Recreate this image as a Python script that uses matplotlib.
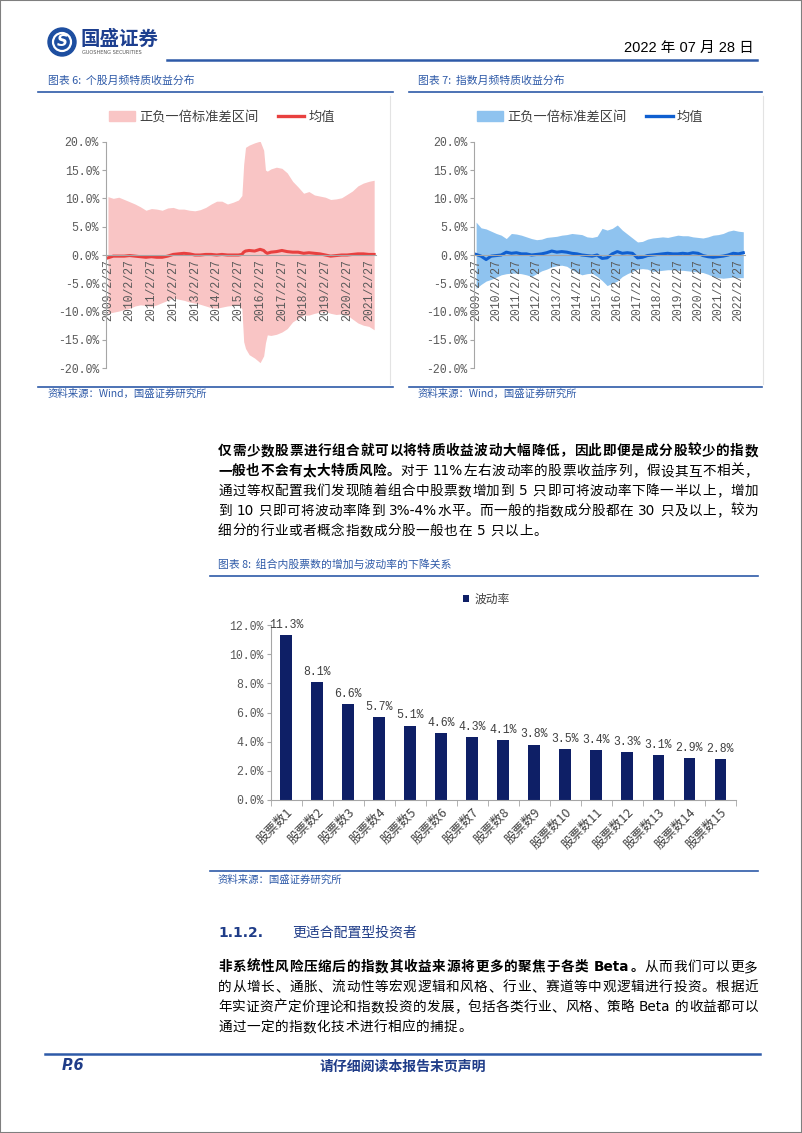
import matplotlib
matplotlib.use("Agg")
import matplotlib.pyplot as plt
import pandas as pd
from matplotlib.lines import Line2D
from matplotlib.patches import Patch, Ellipse, Rectangle

W, H = 802, 1133
CJK = ['Noto Sans CJK SC', 'DejaVu Sans']
LATIN = ['DejaVu Sans', 'Noto Sans CJK SC']
MONO = ['Liberation Mono', 'DejaVu Sans Mono']
NAVY = '#1f3c88'
BLUE = '#2e5aa8'
GREY = '#595959'

# ---- chart 6: stock idiosyncratic return, monthly (values in %)
stock_months = ("2009-02 2009-05 2009-08 2009-11 2010-02 2010-05 2010-08 2010-11 "
                "2011-02 2011-05 2011-08 2011-11 2012-02 2012-05 2012-08 2012-11 "
                "2013-02 2013-05 2013-08 2013-11 2014-02 2014-05 2014-08 2014-11 "
                "2015-02 2015-04 2015-05 2015-06 2015-08 2015-11 2016-02 2016-04 "
                "2016-05 2016-06 2016-08 2016-11 2017-02 2017-05 2017-08 2017-11 "
                "2018-02 2018-05 2018-08 2018-11 2019-02 2019-05 2019-08 2019-11 "
                "2020-02 2020-05 2020-08 2020-11 2021-02 2021-05").split()
stock_upper = [10.3, 10.0, 10.2, 9.8, 9.4, 9.0, 8.5, 7.9, 8.2, 8.1, 7.9, 8.3,
               8.4, 8.1, 8.1, 7.9, 7.8, 8.0, 8.4, 9.0, 9.5, 9.5, 9.0, 9.3,
               9.7, 10.5, 16.0, 19.0, 19.4, 19.8, 20.1, 18.5, 15.0, 14.8, 15.2, 15.5,
               15.3, 14.5, 13.0, 12.0, 10.9, 11.2, 10.6, 10.4, 10.2, 9.8, 9.9, 10.1,
               10.7, 11.3, 12.2, 12.7, 13.0, 13.2]
stock_lower = [-10.3, -10.1, -9.9, -9.6, -9.4, -9.0, -8.8, -8.9, -9.1, -8.8, -8.4, -8.0,
               -7.6, -7.8, -8.0, -8.3, -8.5, -8.7, -9.0, -9.3, -9.4, -9.2, -9.0, -8.9,
               -8.8, -9.5, -15.3, -16.5, -17.6, -18.2, -19.0, -17.8, -15.5, -14.1, -14.2, -14.0,
               -13.6, -13.0, -11.8, -11.2, -10.6, -10.6, -10.3, -10.1, -10.0, -10.3, -10.5, -10.4,
               -10.6, -11.3, -12.0, -12.4, -12.6, -13.2]
stock_mean = [-0.5, -0.2, -0.2, -0.2, -0.1, -0.2, -0.3, -0.4, -0.3, -0.4, -0.4, -0.2,
              0.1, 0.2, 0.3, 0.2, 0.0, 0.0, 0.1, 0.1, 0.0, 0.1, 0.0, 0.0,
              0.0, 0.1, 0.5, 0.7, 0.8, 0.7, 1.0, 0.8, 0.5, 0.3, 0.5, 0.6,
              0.8, 0.6, 0.5, 0.5, 0.3, 0.4, 0.3, 0.2, 0.0, -0.2, -0.1, 0.0,
              0.0, 0.1, 0.2, 0.2, 0.1, 0.1]
stock_years = list(range(2009, 2022))

# ---- chart 7: index idiosyncratic return, monthly (values in %)
index_months = ("2009-02 2009-05 2009-08 2009-11 2010-02 2010-05 2010-08 2010-11 "
                "2011-02 2011-05 2011-08 2011-11 2012-02 2012-05 2012-08 2012-11 "
                "2013-02 2013-05 2013-08 2013-11 2014-02 2014-05 2014-08 2014-11 "
                "2015-02 2015-05 2015-08 2015-11 2016-02 2016-05 2016-08 2016-11 "
                "2017-02 2017-05 2017-08 2017-11 2018-02 2018-05 2018-08 2018-11 "
                "2019-02 2019-05 2019-08 2019-11 2020-02 2020-05 2020-08 2020-11 "
                "2021-02 2021-05 2021-08 2021-11 2022-02 2022-05").split()
index_upper = [5.8, 4.8, 4.6, 4.2, 3.8, 3.5, 2.9, 3.8, 3.7, 3.5, 3.2, 2.9,
               2.7, 2.8, 3.1, 3.2, 3.3, 3.5, 3.6, 3.8, 3.7, 3.6, 3.2, 3.1,
               3.3, 4.7, 4.4, 4.7, 5.3, 4.4, 3.7, 3.0, 2.3, 2.4, 2.8, 3.0,
               3.1, 3.2, 3.1, 3.3, 3.5, 3.4, 3.4, 3.2, 3.1, 3.0, 3.2, 3.5,
               3.6, 3.8, 4.2, 4.4, 4.2, 4.1]
index_lower = [-5.9, -5.2, -4.6, -4.3, -3.9, -3.5, -3.3, -3.2, -3.2, -3.3, -3.5, -3.8,
               -3.3, -2.8, -2.5, -2.1, -1.9, -1.8, -2.0, -2.6, -3.1, -3.5, -3.3, -3.2,
               -3.8, -4.5, -5.4, -5.0, -4.6, -3.8, -3.3, -2.9, -2.5, -2.4, -2.5, -2.9,
               -2.8, -2.7, -2.6, -2.6, -2.7, -2.7, -2.8, -2.9, -3.0, -3.1, -3.4, -3.8,
               -4.0, -4.1, -4.0, -3.9, -4.0, -4.0]
index_mean = [0.1, -0.2, -0.8, -0.2, -0.1, 0.0, 0.5, 0.3, 0.4, 0.2, 0.2, 0.0,
              0.1, 0.2, 0.4, 0.7, 0.5, 0.6, 0.5, 0.3, 0.2, 0.0, -0.1, -0.2,
              0.0, -0.6, -0.5, 0.2, 0.6, 0.3, 0.4, 0.3, -0.5, -0.4, -0.1, 0.0,
              0.1, 0.2, 0.3, 0.2, 0.2, 0.3, 0.2, 0.4, 0.3, -0.1, -0.3, -0.4,
              -0.3, -0.2, 0.0, 0.3, 0.2, 0.4]
index_years = list(range(2009, 2023))

# ---- chart 8: volatility vs number of stocks
bar_labels = ['股票数%d' % i for i in range(1, 16)]
bar_values = [11.3, 8.1, 6.6, 5.7, 5.1, 4.6, 4.3, 4.1, 3.8, 3.5, 3.4, 3.3, 3.1, 2.9, 2.8]

fig = plt.figure(figsize=(W / 100, H / 100), dpi=100)
renderer = fig.canvas.get_renderer()


def px_axes(x0, y0, x1, y1):
    return fig.add_axes([x0 / W, 1 - y1 / H, (x1 - x0) / W, (y1 - y0) / H])


def ftext(x, y, s, **kw):
    kw.setdefault('va', 'center')
    return fig.text(x / W, 1 - y / H, s, **kw)


def hline(x0, x1, y, color=BLUE, lw=1.2):
    fig.add_artist(Line2D([x0 / W, x1 / W], [1 - y / H, 1 - y / H],
                          transform=fig.transFigure, color=color, lw=lw))


def vline(x, y0, y1, color='#e3e3e3', lw=0.8):
    fig.add_artist(Line2D([x / W, x / W], [1 - y0 / H, 1 - y1 / H],
                          transform=fig.transFigure, color=color, lw=lw))


def put_line(y, parts, x0=218, x1=758, justify=True, size=9.8):
    # split into cjk chars / latin runs / spaces, then spread to full width
    toks = []
    for s, bold in parts:
        buf = ''
        for ch in s:
            if ch == ' ':
                if buf:
                    toks.append((buf, bold, 'latin'))
                    buf = ''
                toks.append((' ', bold, 'space'))
            elif ord(ch) < 128:
                buf += ch
            else:
                if buf:
                    toks.append((buf, bold, 'latin'))
                    buf = ''
                toks.append((ch, bold, 'cjk'))
        if buf:
            toks.append((buf, bold, 'latin'))
    items = []
    for s, bold, kind in toks:
        if kind == 'space':
            items.append((None, size * 100 / 72 * 0.3))
            continue
        t = ftext(0, y, s, fontsize=size, color='black',
                  fontweight='bold' if bold else 'normal',
                  family=LATIN if kind == 'latin' else CJK)
        items.append((t, t.get_window_extent(renderer).width))
    total = sum(w for _, w in items)
    gap = (x1 - x0 - total) / (len(items) - 1) if justify else 0.5
    x = x0
    for t, w in items:
        if t is not None:
            t.set_x(x / W)
        x += w + gap


# ---- page frame, header
fig.add_artist(Rectangle((0, 0), 1, 1, transform=fig.transFigure, fill=False,
                         edgecolor='#7f7f7f', lw=1.5))
fig.add_artist(Ellipse((62 / W, 1 - 42 / H), 28 / W, 28 / H,
                       transform=fig.transFigure, color='#1d4ea0'))
fig.add_artist(Ellipse((62 / W, 1 - 42 / H), 18 / W, 18 / H,
                       transform=fig.transFigure, facecolor='none', edgecolor='white', lw=1.6))
ftext(62, 42, 'S', fontsize=11, color='white', fontweight='bold', style='italic',
      ha='center', family=LATIN)
ftext(81, 39, '国盛证券', fontsize=14, color='#1d3f8f', fontweight='bold', family=CJK)
ftext(82, 53, 'GUOSHENG SECURITIES', fontsize=3.6, color='#555555', family=LATIN)
ftext(754, 48, '2022 年 07 月 28 日', fontsize=10.5, color='black', ha='right',
      family=['Liberation Sans', 'Noto Sans CJK SC'])
hline(167, 757, 59.5, lw=1.8)

# ---- chart titles
ftext(48, 81, '图表 6:  个股月频特质收益分布', fontsize=7.8, color=BLUE, family=CJK)
ftext(418, 81, '图表 7:  指数月频特质收益分布', fontsize=7.8, color=BLUE, family=CJK)
hline(38, 393, 92)
hline(409, 762, 92)
vline(390, 96, 384)
vline(763, 96, 384)


def band_chart(box, months, upper, lower, mean, years, band_color, line_color, x_end):
    ax = px_axes(*box)
    # spine position first: set_position resets the ticks
    for s in ['top', 'right']:
        ax.spines[s].set_visible(False)
    ax.spines['left'].set_color('#a6a6a6')
    ax.spines['bottom'].set_color('#a6a6a6')
    ax.spines['bottom'].set_position(('data', 0))
    dates = pd.to_datetime([m + '-27' for m in months])
    ax.fill_between(dates, lower, upper, color=band_color, lw=0)
    ax.plot(dates, mean, color=line_color, lw=2.2)
    ax.set_ylim(-20, 20)
    ax.set_xlim(pd.Timestamp('2009-01-25'), pd.Timestamp(x_end))
    ax.set_yticks(range(-20, 21, 5))
    ax.set_yticklabels(['%.1f%%' % v for v in range(-20, 21, 5)], family=MONO, fontsize=8.3)
    ticks = pd.to_datetime(['%d-02-27' % y for y in years])
    ax.set_xticks(ticks)
    ax.set_xticklabels(['%d/2/27' % y for y in years], rotation=90, va='top',
                       ha='center', family=MONO, fontsize=8.3)
    ax.tick_params(axis='y', length=3, color='#a6a6a6', labelcolor=GREY, pad=2)
    ax.tick_params(axis='x', length=0, labelcolor=GREY, pad=3)
    ax.set_facecolor('none')
    ax.legend(handles=[Patch(color=band_color), Line2D([], [], color=line_color, lw=2.4)],
              labels=['正负一倍标准差区间', '均值'], ncol=2, frameon=False,
              loc='center left', bbox_to_anchor=(0.01, 1.109), borderpad=0,
              borderaxespad=0, handlelength=2.0, handleheight=0.8,
              handletextpad=0.3, columnspacing=1.5,
              prop={'family': CJK, 'size': 9.5}, labelcolor='#404040')
    return ax


band_chart((106, 141.7, 376, 368.3), stock_months, stock_upper, stock_lower, stock_mean,
           stock_years, '#f9c5c5', '#e8403f', '2021-06-27')
band_chart((474.3, 141.7, 745, 368.3), index_months, index_upper, index_lower, index_mean,
           index_years, '#8fc3ef', '#0f5fd0', '2022-06-27')

hline(38, 393, 387)
hline(409, 762, 387)
ftext(48, 394, '资料来源：Wind，国盛证券研究所', fontsize=7.5, color=BLUE, family=CJK)
ftext(418, 394, '资料来源：Wind，国盛证券研究所', fontsize=7.5, color=BLUE, family=CJK)

# ---- paragraph 1
para1 = [
    [('仅需少数股票进行组合就可以将特质收益波动大幅降低，因此即便是成分股较少的指数', True)],
    [('一般也不会有太大特质风险。', True), ('对于 11%左右波动率的股票收益序列，假设其互不相关，', False)],
    [('通过等权配置我们发现随着组合中股票数增加到 5 只即可将波动率下降一半以上，增加', False)],
    [('到 10 只即可将波动率降到 3%-4%水平。而一般的指数成分股都在 30 只及以上，较为', False)],
    [('细分的行业或者概念指数成分股一般也在 5 只以上。', False)],
]
for i, parts in enumerate(para1):
    put_line(451 + i * 20, parts, justify=i < len(para1) - 1)

# ---- chart 8
ftext(218, 564, '图表 8:  组合内股票数的增加与波动率的下降关系', fontsize=7.8, color=BLUE, family=CJK)
hline(210, 758, 576)

ax = px_axes(270.5, 625, 736, 800)
for s in ['top', 'right']:
    ax.spines[s].set_visible(False)
ax.spines['left'].set_color('#a6a6a6')
ax.spines['bottom'].set_color('#a6a6a6')
x = list(range(len(bar_values)))
bars = ax.bar(x, bar_values, width=0.38, color='#0e1f66', label='波动率')
ax.bar_label(bars, labels=['%.1f%%' % v for v in bar_values], padding=3,
             color='#404040', fontsize=8.3, family=MONO)
ax.set_xlim(-0.5, len(bar_values) - 0.5)
ax.set_ylim(0, 12)
ax.set_yticks(range(0, 13, 2))
ax.set_yticklabels(['%.1f%%' % v for v in range(0, 13, 2)], family=MONO, fontsize=8.3)
ax.set_xticks(x)
ax.set_xticklabels(bar_labels, rotation=45, ha='right', rotation_mode='anchor',
                   family=CJK, fontsize=9)
ax.set_xticks([i - 0.5 for i in range(len(bar_values) + 1)], minor=True)
ax.tick_params(axis='y', length=3, color='#a6a6a6', labelcolor=GREY, pad=2)
ax.tick_params(axis='x', which='major', length=0, labelcolor='#404040', pad=4)
ax.tick_params(axis='x', which='minor', length=4, color='#a6a6a6')
ax.set_facecolor('none')
ax.legend(loc='center left', bbox_to_anchor=(0.4135, 1.149), frameon=False,
          borderpad=0, borderaxespad=0, handlelength=0.55, handleheight=0.55,
          handletextpad=0.4, prop={'family': CJK, 'size': 8.5}, labelcolor='#404040')

hline(210, 758, 871)
ftext(218, 880, '资料来源：国盛证券研究所', fontsize=7.5, color=BLUE, family=CJK)

# ---- section 1.1.2
ftext(218, 933, '1.1.2.', fontsize=10, color=NAVY, fontweight='bold', family=LATIN)
ftext(292, 933, '更适合配置型投资者', fontsize=10, color=NAVY, family=CJK)
para2 = [
    [('非系统性风险压缩后的指数其收益来源将更多的聚焦于各类 Beta。', True), ('从而我们可以更多', False)],
    [('的从增长、通胀、流动性等宏观逻辑和风格、行业、赛道等中观逻辑进行投资。根据近', False)],
    [('年实证资产定价理论和指数投资的发展，包括各类行业、风格、策略 Beta 的收益都可以', False)],
    [('通过一定的指数化技术进行相应的捕捉。', False)],
]
for i, parts in enumerate(para2):
    put_line(967 + i * 20, parts, justify=i < len(para2) - 1)

# ---- footer
hline(45, 760, 1054, lw=1.8)
ftext(62, 1066, 'P.6', fontsize=10.5, color=NAVY, fontweight='bold', style='italic', family=LATIN)
ftext(320, 1067, '请仔细阅读本报告末页声明', fontsize=10, color=NAVY, fontweight='bold', family=CJK)

fig.savefig('out.png', dpi=100)
